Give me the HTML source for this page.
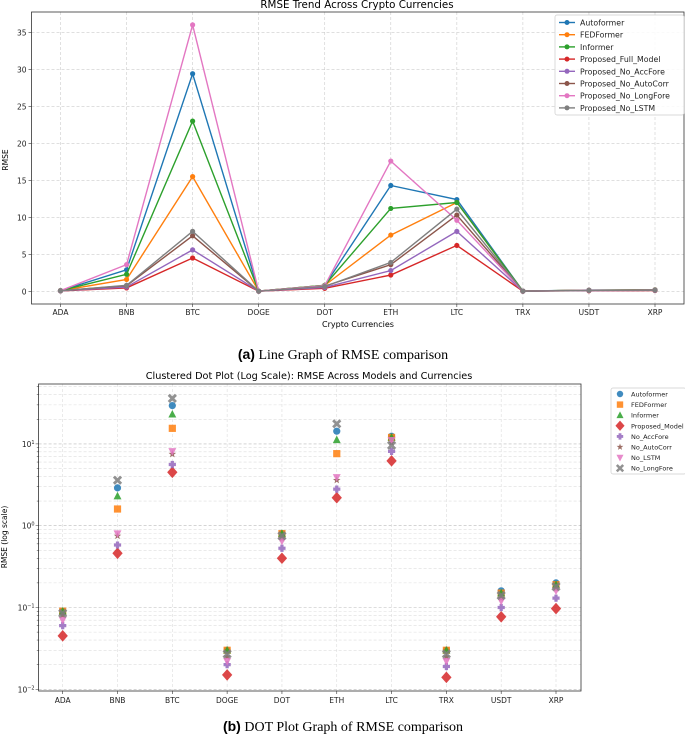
<!DOCTYPE html>
<html><head><meta charset="utf-8">
<style>
html,body{margin:0;padding:0;background:#fff;width:685px;height:734px;overflow:hidden}
svg{display:block}
text{font-family:"DejaVu Sans","Liberation Sans",sans-serif}
.cap{font-family:"Liberation Serif",serif;font-size:14px}
</style></head><body>
<svg id="root" width="685" height="734">
  <g id="lineChart"></g>
  <text class="cap" x="343" y="359" text-anchor="middle"><tspan font-family="Liberation Sans" font-weight="bold">(a)</tspan> Line Graph of RMSE comparison</text>
  <g id="dotChart"></g>
  <text class="cap" x="343" y="731" text-anchor="middle"><tspan font-family="Liberation Sans" font-weight="bold">(b)</tspan> DOT Plot Graph of RMSE comparison</text>
</svg>
<script>
const categories = ["ADA","BNB","BTC","DOGE","DOT","ETH","LTC","TRX","USDT","XRP"];
const autoformer = [0.09,2.9,29.4,0.03,0.8,14.3,12.4,0.03,0.16,0.2];
const fedformer  = [0.09,1.6,15.5,0.03,0.8,7.6,12.0,0.03,0.15,0.19];
const informer   = [0.09,2.3,23.0,0.03,0.8,11.2,12.0,0.03,0.15,0.19];
const fullModel  = [0.045,0.46,4.5,0.015,0.4,2.2,6.2,0.014,0.077,0.097];
const noAccFore  = [0.06,0.58,5.6,0.02,0.53,2.8,8.1,0.019,0.1,0.13];
const noAutoCorr = [0.08,0.75,7.5,0.025,0.7,3.6,10.3,0.025,0.13,0.17];
const noLongFore = [0.085,3.6,36.0,0.027,0.75,17.6,9.6,0.027,0.14,0.18];
const noLSTM     = [0.07,0.8,8.1,0.022,0.65,3.9,11.1,0.022,0.12,0.16];
const linearTicks = [0,5,10,15,20,25,30,35];
const logTicks = [-2,-1,0,1];

const NS="http://www.w3.org/2000/svg";
function mk(parent,tag,attrs,txt){const e=document.createElementNS(NS,tag);for(const k in attrs)e.setAttribute(k,attrs[k]);if(txt!==undefined)e.textContent=txt;parent.appendChild(e);return e;}

/* ---------- Line chart ---------- */
(function(){
  const g=document.getElementById('lineChart');
  const L=31.5,R=684,T=12,B=304;
  const x0=60.5,x1=655;
  const xs=i=>x0+(x1-x0)*i/(categories.length-1);
  const ys=v=>291.3-(291.3-32.3)*v/35;
  const series=[
    ["Autoformer",autoformer,"#1f77b4"],["FEDFormer",fedformer,"#ff7f0e"],["Informer",informer,"#2ca02c"],
    ["Proposed_Full_Model",fullModel,"#d62728"],["Proposed_No_AccFore",noAccFore,"#9467bd"],
    ["Proposed_No_AutoCorr",noAutoCorr,"#8c564b"],["Proposed_No_LongFore",noLongFore,"#e377c2"],
    ["Proposed_No_LSTM",noLSTM,"#7f7f7f"]];
  const t=mk(g,'text',{x:357,y:8,'text-anchor':'middle','font-size':'10.3'},"RMSE Trend Across Crypto Currencies");
  
  
  linearTicks.forEach(v=>{
    const gl=mk(g,'line',{x1:L,x2:R,y1:ys(v),y2:ys(v),stroke:'#ccc','stroke-width':0.6,'stroke-dasharray':'3,2'});
    
    
    mk(g,'line',{x1:L-3,x2:L,y1:ys(v),y2:ys(v),stroke:'#333','stroke-width':0.6});
    const tl=mk(g,'text',{x:L-5,y:ys(v)+3,'text-anchor':'end','font-size':'7.5',fill:'#222'},v);
    
    
  });
  categories.forEach((c,i)=>{
    const gl=mk(g,'line',{x1:xs(i),x2:xs(i),y1:T,y2:B,stroke:'#ccc','stroke-width':0.6,'stroke-dasharray':'3,2'});
    
    
    mk(g,'line',{x1:xs(i),x2:xs(i),y1:B,y2:B+3,stroke:'#333','stroke-width':0.6});
    const tl=mk(g,'text',{x:xs(i),y:B+11,'text-anchor':'middle','font-size':'7.5',fill:'#222'},c);
    
    
  });
  const fr=mk(g,'rect',{x:L,y:T,width:R-L,height:B-T,fill:'none',stroke:'#333','stroke-width':0.8});
  
  
  const xl=mk(g,'text',{x:358,y:327,'text-anchor':'middle','font-size':'8'},"Crypto Currencies");
  
  
  const yl=mk(g,'text',{x:8,y:160,'text-anchor':'middle','font-size':'7.5',transform:'rotate(-90 8 160)'},"RMSE");
  
  
  series.forEach(([name,vals,col])=>{
    const sg=mk(g,'g',{});
    
    
    mk(sg,'polyline',{points:vals.map((v,i)=>xs(i)+','+ys(v)).join(' '),fill:'none',stroke:col,'stroke-width':1.4});
    vals.forEach((v,i)=>{
      const p=mk(sg,'circle',{cx:xs(i),cy:ys(v),r:2.6,fill:col});
      
      
    });
  });
  const lg=mk(g,'g',{});
  
  
  mk(lg,'rect',{x:555,y:15,width:129,height:100,fill:'#fff','fill-opacity':0.85,stroke:'#ccc','stroke-width':0.7,rx:2});
  series.forEach(([name,vals,col],k)=>{
    const y=22.5+k*12.2;
    const e=mk(lg,'g',{});
    
    
    mk(e,'line',{x1:559,x2:575,y1:y,y2:y,stroke:col,'stroke-width':1.4});
    mk(e,'circle',{cx:567,cy:y,r:2.5,fill:col});
    mk(e,'text',{x:580,y:y+3,'font-size':'7.8',fill:'#222'},name);
  });
})();

/* ---------- Dot chart (log) ---------- */
(function(){
  const g=document.getElementById('dotChart');
  const L=38.6,R=581,T=384,B=691;
  const x0=62.7,x1=556;
  const xs=i=>x0+(x1-x0)*i/(categories.length-1);
  const ys=v=>525.7-81.8*Math.log10(v);
  const series=[
    ["Autoformer",autoformer,"#1f77b4","circle"],["FEDFormer",fedformer,"#ff7f0e","square"],
    ["Informer",informer,"#2ca02c","tri"],["Proposed_Model",fullModel,"#d62728","diamond"],
    ["No_AccFore",noAccFore,"#9467bd","plus"],["No_AutoCorr",noAutoCorr,"#8c564b","star"],
    ["No_LSTM",noLSTM,"#e377c2","trid"],["No_LongFore",noLongFore,"#7f7f7f","x"]];
  const t=mk(g,'text',{x:309,y:379,'text-anchor':'middle','font-size':'9.7'},"Clustered Dot Plot (Log Scale): RMSE Across Models and Currencies");
  
  
  for(let d=-2;d<=1;d++){
    for(let m=1;m<=9;m++){
      const v=m*Math.pow(10,d);const y=ys(v);
      if(y<T||y>B)continue;
      const gl=mk(g,'line',{x1:L,x2:R,y1:y,y2:y,stroke:m===1?'#bbb':'#ddd','stroke-width':0.6,'stroke-dasharray':'3,2'});
      
      
      mk(g,'line',{x1:L-(m===1?3:1.8),x2:L,y1:y,y2:y,stroke:'#333','stroke-width':0.5});
    }
  }
  logTicks.forEach(e=>{
    const tl=mk(g,'text',{x:L-4,y:ys(Math.pow(10,e))+3,'text-anchor':'end','font-size':'7.5',fill:'#222'});
    
    
    mk(tl,'tspan',{},'10');
    mk(tl,'tspan',{dy:-3,'font-size':'5'},String(e).replace('-','\u2212'));
  });
  categories.forEach((c,i)=>{
    const gl=mk(g,'line',{x1:xs(i),x2:xs(i),y1:T,y2:B,stroke:'#ddd','stroke-width':0.6,'stroke-dasharray':'3,2'});
    
    
    mk(g,'line',{x1:xs(i),x2:xs(i),y1:B,y2:B+3,stroke:'#333','stroke-width':0.6});
    const tl=mk(g,'text',{x:xs(i),y:B+12,'text-anchor':'middle','font-size':'7.5',fill:'#222'},c);
    
    
  });
  const fr=mk(g,'rect',{x:L,y:T,width:R-L,height:B-T,fill:'none',stroke:'#333','stroke-width':0.8});
  
  
  const yl=mk(g,'text',{x:7,y:537,'text-anchor':'middle','font-size':'7.5',transform:'rotate(-90 7 537)'},"RMSE (log scale)");
  
  
  function marker(p,shape,cx,cy,col,s){
    const a={fill:col,'fill-opacity':0.85};
    if(shape==='circle')return mk(p,'circle',Object.assign({cx,cy,r:s},a));
    if(shape==='square')return mk(p,'rect',Object.assign({x:cx-s,y:cy-s,width:2*s,height:2*s},a));
    if(shape==='tri')return mk(p,'polygon',Object.assign({points:`${cx},${cy-s*1.2} ${cx-s*1.1},${cy+s*0.9} ${cx+s*1.1},${cy+s*0.9}`},a));
    if(shape==='trid')return mk(p,'polygon',Object.assign({points:`${cx},${cy+s*1.2} ${cx-s*1.1},${cy-s*0.9} ${cx+s*1.1},${cy-s*0.9}`},a));
    if(shape==='diamond')return mk(p,'polygon',Object.assign({points:`${cx},${cy-s*1.35} ${cx+s*1.2},${cy} ${cx},${cy+s*1.35} ${cx-s*1.2},${cy}`},a));
    if(shape==='plus'){const w=s*0.45;return mk(p,'path',Object.assign({d:`M${cx-w},${cy-s}h${2*w}v${s-w}h${s-w}v${2*w}h${-(s-w)}v${s-w}h${-2*w}v${-(s-w)}h${-(s-w)}v${-2*w}h${s-w}z`},a));}
    if(shape==='x'){return mk(p,'path',Object.assign({d:`M${cx-s},${cy-s}L${cx+s},${cy+s}M${cx+s},${cy-s}L${cx-s},${cy+s}`,stroke:col,'stroke-width':s*0.8,'stroke-opacity':0.85,fill:'none'}));}
    if(shape==='star'){let pts=[];for(let k=0;k<10;k++){const r=k%2?s*0.45:s*1.1;const an=-Math.PI/2+k*Math.PI/5;pts.push((cx+r*Math.cos(an)).toFixed(2)+','+(cy+r*Math.sin(an)).toFixed(2));}return mk(p,'polygon',Object.assign({points:pts.join(' ')},a));}
  }
  series.forEach(([name,vals,col,shape])=>{
    const sg=mk(g,'g',{});
    
    
    vals.forEach((v,i)=>{
      const m=marker(sg,shape,xs(i),ys(v),col,shape==='diamond'?4.3:3.6);
      
      
    });
  });
  const lg=mk(g,'g',{});
  
  
  mk(lg,'rect',{x:611,y:388,width:75,height:86,fill:'#fff',stroke:'#ccc','stroke-width':0.7,rx:2});
  series.forEach(([name,vals,col,shape],k)=>{
    const y=394+k*10.6;
    const e=mk(lg,'g',{});
    
    
    marker(e,shape,620,y,col,shape==='diamond'?3.8:3.2);
    mk(e,'text',{x:631,y:y+2.5,'font-size':'6.5',fill:'#222'},name);
  });
})();
</script>
</body></html>
